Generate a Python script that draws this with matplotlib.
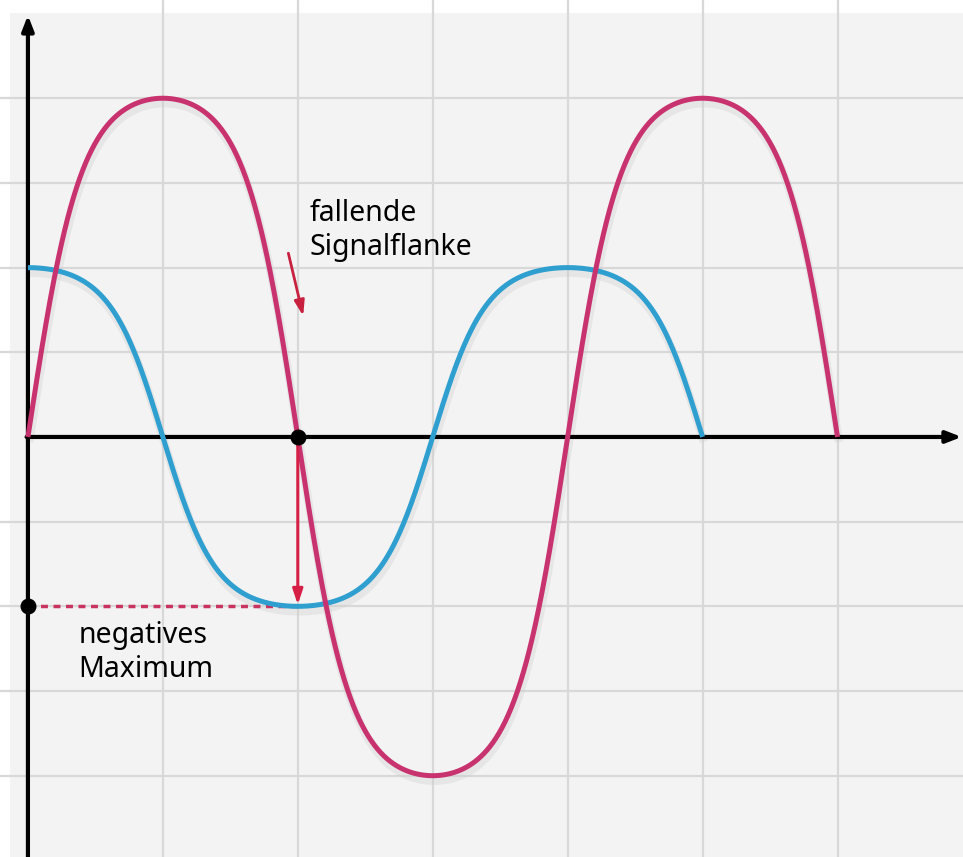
import numpy as np
import matplotlib.pyplot as plt
from matplotlib.patches import Rectangle

# signal parameters (grid units)
period = 4.0
pink_amp = 4.0
blue_amp = 2.0
pink_end = 6.0
blue_end = 5.0
squareness = 1.5   # flattens the crests a little

# annotation points
edge_point = (2.0, 0.0)
neg_max = (0.0, -2.0)
edge_label = "fallende\nSignalflanke"
max_label = "negatives\nMaximum"

grid_x = [1, 2, 3, 4, 5, 6]
grid_y = [-4, -3, -2, -1, 1, 2, 3, 4]

pink = "#c8336f"
blue = "#2f9fd0"
red = "#d61f45"


def wave(x, amp, phase):
    s = np.sin(2 * np.pi * x / period + phase)
    return amp * np.tanh(squareness * s) / np.tanh(squareness)


fig = plt.figure(figsize=(9.63, 8.57), dpi=100)
ax = fig.add_axes([0, 0, 1, 1])
ax.set_xlim(-0.207, 6.93)
ax.set_ylim(-4.96, 5.16)
ax.axis("off")

# light panel behind the grid
ax.add_patch(Rectangle((-0.135, -6), 8, 11.01, facecolor="#f3f3f3",
                       edgecolor="none", zorder=0))
for gx in grid_x:
    ax.axvline(gx, color="#d8d8d8", lw=1.6, zorder=1)
for gy in grid_y:
    ax.axhline(gy, color="#d8d8d8", lw=1.6, zorder=1)

# axes with arrow heads
ax.annotate("", xy=(6.92, 0), xytext=(-0.01, 0),
            arrowprops=dict(arrowstyle="-|>,head_length=0.9,head_width=0.35",
                            color="black", lw=3, shrinkA=0, shrinkB=0), zorder=3)
ax.annotate("", xy=(0, 4.98), xytext=(0, -5.2),
            arrowprops=dict(arrowstyle="-|>,head_length=0.9,head_width=0.35",
                            color="black", lw=3, shrinkA=0, shrinkB=0), zorder=3)

xp = np.linspace(0, pink_end, 800)
xb = np.linspace(0, blue_end, 700)
yp = wave(xp, pink_amp, 0.0)
yb = wave(xb, blue_amp, np.pi / 2)

# soft shadow under the curves
for x, y in [(xp, yp), (xb, yb)]:
    ax.plot(x + 0.01, y - 0.06, color="#cfcfcf", lw=6, alpha=0.35,
            solid_capstyle="butt", zorder=2)
ax.plot(xb, yb, color=blue, lw=3.6, solid_capstyle="butt", zorder=4)
ax.plot(xp, yp, color=pink, lw=3.6, solid_capstyle="butt", zorder=4)

# dotted guide to the negative maximum
ax.plot([neg_max[0], edge_point[0]], [neg_max[1], neg_max[1]],
        color="#c9335f", lw=2.5, ls=(0, (2, 1.6)), zorder=3)

# arrows
ax.annotate("", xy=(edge_point[0], neg_max[1] + 0.02), xytext=edge_point,
            arrowprops=dict(arrowstyle="-|>,head_length=0.9,head_width=0.3",
                            color=red, lw=2.2, shrinkA=0, shrinkB=0), zorder=5)
ax.annotate("", xy=(2.04, 1.43), xytext=(1.93, 2.17),
            arrowprops=dict(arrowstyle="-|>,head_length=0.9,head_width=0.3",
                            color="#c8203f", lw=2, shrinkA=0, shrinkB=0), zorder=5)

ax.scatter([edge_point[0], neg_max[0]], [edge_point[1], neg_max[1]],
           s=110, color="black", zorder=6)

ax.text(2.09, 2.15, edge_label, fontsize=20.5, family="Noto Sans",
        linespacing=1.22, va="baseline", ha="left", zorder=6)
ax.text(0.375, -2.834, max_label, fontsize=20.5, family="Noto Sans",
        linespacing=1.22, va="baseline", ha="left", zorder=6)

fig.savefig("out.png", dpi=100)
